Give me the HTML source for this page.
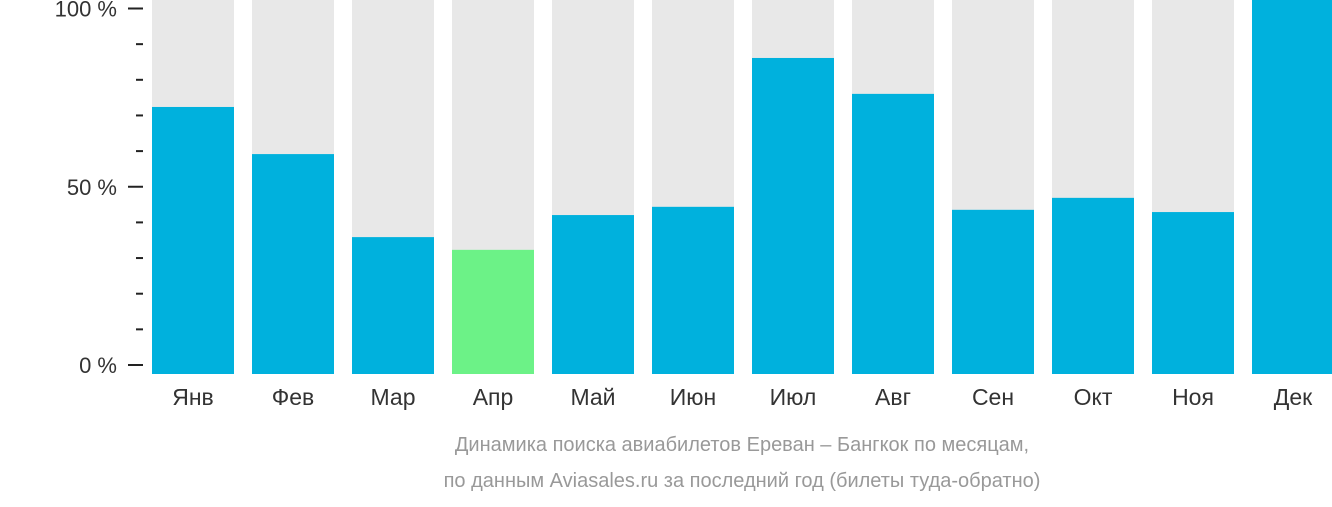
<!DOCTYPE html>
<html><head><meta charset="utf-8"><style>
body{margin:0;background:#fff;width:1332px;height:502px;overflow:hidden;font-family:"Liberation Sans","DejaVu Sans",sans-serif}
</style></head><body>
<svg id="c" width="1332" height="502"></svg>
<script>
const categories=["Янв","Фев","Мар","Апр","Май","Июн","Июл","Авг","Сен","Окт","Ноя","Дек"];
const values=[71.4,58.8,36.6,33.2,42.5,44.7,84.5,74.9,43.9,47.1,43.3,100];
const highlight=[false,false,false,true,false,false,false,false,false,false,false,false];
const tickValues=[0,50,100];
const tickLabels=["0 %","50 %","100 %"];
const minorTicks=[10,20,30,40,60,70,80,90];
const NS="http://www.w3.org/2000/svg";
const svg=document.getElementById('c');
function mk(t,a,p){const e=document.createElementNS(NS,t);for(const k in a)e.setAttribute(k,a[k]);(p||svg).appendChild(e);return e;}
const barY=v=>374-3.74*v;
const axisY=v=>365-3.565*v;
const bx=i=>152+i*100;
categories.forEach((c,i)=>{
 const bg=mk('rect',{x:bx(i),y:0,width:82,height:374,fill:'#e8e8e8'});
 
 
 const r=mk('rect',{x:bx(i),y:barY(values[i]),width:82,height:374-barY(values[i]),fill:highlight[i]?'#6cf287':'#00b1dd'});
 
 
 const t=mk('text',{x:bx(i)+41,y:405,'text-anchor':'middle','font-size':23,fill:'#333'});
 t.textContent=c;
 
 
});
tickValues.forEach((v,i)=>{
 const l=mk('line',{x1:128,x2:143,y1:axisY(v),y2:axisY(v),stroke:'#222','stroke-width':2});
 
 
 const t=mk('text',{x:117,y:axisY(v)+8,'text-anchor':'end','font-size':22,fill:'#333'});
 t.textContent=tickLabels[i];
 
 
});
minorTicks.forEach(v=>{
 const l=mk('line',{x1:136,x2:143,y1:axisY(v),y2:axisY(v),stroke:'#222','stroke-width':2});
 
 
});
[["Динамика поиска авиабилетов Ереван – Бангкок по месяцам,",451],["по данным Aviasales.ru за последний год (билеты туда-обратно)",487]].forEach(([s,y])=>{
 const t=mk('text',{x:742,y:y,'text-anchor':'middle','font-size':20,fill:'#999'});
 t.textContent=s;
 
 
});
</script>
</body></html>
